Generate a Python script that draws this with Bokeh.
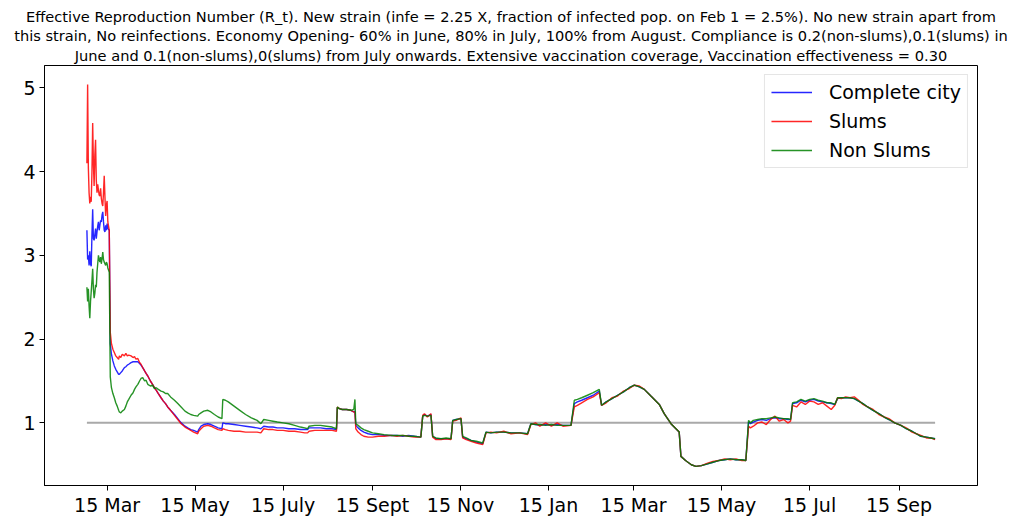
import pandas as pd
from bokeh.plotting import figure
from bokeh.models import FixedTicker, Legend, LegendItem, Title, Range1d, ColumnDataSource
from bokeh.embed import file_html
from bokeh.resources import INLINE

# ---------------- data ----------------
origin = "2021-03-15"  # day 0 of the x values below

day = [-14.0, -13.5, -13.0, -12.5, -12.0, -11.5, -11.0, -10.5, -10.0, -9.5, -9.0, -8.5, -8.0, -7.5,
       -7.0, -6.5, -6.0, -5.5, -5.0, -4.5, -4.0, -3.5, -3.0, -2.5, -2.0, -1.5, -1.0, -0.5, 0.0, 0.5,
       1.5, 2.2, 3, 4, 5, 6, 7, 8, 8.5, 9.5, 10.5, 12, 13, 14, 15, 16.6, 18, 19, 20, 21.3, 22.5,
       23.5, 24.7, 26, 27, 28.2, 30, 31.5, 32.8, 34, 35.5, 37.4, 39, 40.5, 42, 44, 46.7, 49, 51.3,
       54, 55.9, 58, 60, 62.8, 63.5, 65.1, 67, 69.8, 72, 74.4, 77, 79.6, 80.2, 82, 84, 88, 92, 96,
       100, 104, 106.6, 108.6, 112, 115, 118, 122, 126, 130, 134, 137, 139, 140, 144, 148, 152, 156,
       159, 159.6, 161, 163, 166, 169, 171, 171.8, 172.4, 174, 176, 178, 181, 184, 188, 192, 197,
       201, 205, 209, 213, 217.5, 218.8, 220, 222, 224.5, 225.7, 228, 231.5, 235, 238.4, 239.6, 242,
       245.3, 246.5, 249, 252.3, 256, 260.4, 262.7, 266, 270, 275, 280, 286, 291.5, 293.8, 297, 300,
       304, 308, 312, 316, 321.6, 323.9, 326, 329, 333, 337, 341.2, 342.8, 346, 350, 353.9, 358, 362,
       365.5, 369, 372.4, 377, 382.8, 386.2, 390.9, 396.6, 397.8, 401, 405, 408.2, 412, 416.3, 420,
       424, 428, 432, 436, 440, 442.8, 444.7, 446, 448, 451, 454, 457, 460, 463, 466, 469, 472, 473.8,
       475.2, 478, 481, 484, 487, 490, 493, 496, 499, 502, 504.5, 506.4, 509, 512, 515, 518, 521, 524,
       527.2, 531, 535, 538.7, 542, 546, 550.3, 554, 558, 561, 564.1, 568, 571, 574]

complete_city = [3.30, 2.95, 3.00, 2.88, 3.05, 2.90, 2.87, 3.25, 3.55, 3.20, 3.18, 3.25, 3.32, 3.20,
                 3.28, 3.35, 3.40, 3.30, 3.36, 3.42, 3.40, 3.48, 3.52, 3.40, 3.30, 3.28, 3.36, 3.30, 3.38, 3.32,
                 3.30, 1.95, 1.82, 1.74, 1.68, 1.64, 1.61, 1.58, 1.58, 1.60, 1.62, 1.66, 1.67, 1.69, 1.70, 1.72, 1.73, 1.73, 1.73, 1.73, 1.71,
                 1.69, 1.66, 1.62, 1.59, 1.56, 1.50, 1.46, 1.42, 1.39, 1.35, 1.30, 1.26, 1.23, 1.19, 1.15, 1.10, 1.05, 1.00,
                 0.96, 0.94, 0.92, 0.91, 0.89, 0.92, 0.96, 0.98, 0.99, 0.98, 0.96, 0.94, 0.93, 1.00, 0.99, 0.99, 0.98, 0.97, 0.96,
                 0.95, 0.94, 0.93, 0.96, 0.95, 0.95, 0.94, 0.94, 0.93, 0.93, 0.92, 0.92, 0.92, 0.94, 0.94, 0.94, 0.93, 0.93,
                 0.92, 1.18, 1.17, 1.16, 1.16, 1.15, 1.13, 1.14, 0.97, 0.94, 0.91, 0.89, 0.87, 0.86, 0.86, 0.85, 0.85,
                 0.85, 0.84, 0.85, 0.84, 0.83, 1.08, 1.10, 1.08, 1.10, 0.84, 0.81, 0.81, 0.81, 0.81, 1.03, 1.04,
                 1.05, 0.83, 0.81, 0.79, 0.77, 0.75, 0.89, 0.88, 0.89, 0.89, 0.88, 0.88, 0.87, 0.99, 0.98, 0.97,
                 0.98, 0.97, 0.98, 0.97, 0.97, 1.23, 1.25, 1.27, 1.30, 1.33, 1.38, 1.21, 1.25, 1.29, 1.33, 1.37, 1.42,
                 1.45, 1.43, 1.40, 1.32, 1.22, 1.11, 0.99, 0.89, 0.60, 0.55, 0.50, 0.48, 0.49, 0.51, 0.53,
                 0.55, 0.56, 0.57, 0.56, 0.56, 0.55, 1.01, 0.99, 1.01, 1.03, 1.04, 1.03, 1.05, 1.06, 1.05, 1.05, 1.04, 1.04,
                 1.23, 1.24, 1.27, 1.25, 1.27, 1.28, 1.26, 1.25, 1.24, 1.23, 1.22, 1.29, 1.30, 1.30, 1.30, 1.29, 1.26, 1.23,
                 1.19, 1.15, 1.11, 1.07, 1.04, 1.00, 0.97, 0.93, 0.90, 0.87, 0.84, 0.83, 0.82, 0.81]

slums = [4.10, 5.04, 4.05, 3.75, 3.62, 3.70, 3.64, 4.00, 4.58, 4.10, 3.83, 4.20, 4.38, 3.90,
         3.75, 3.85, 3.78, 3.72, 3.71, 3.80, 3.68, 3.62, 3.59, 3.75, 3.95, 3.70, 3.47, 3.60, 3.65, 3.40,
         3.30, 2.08, 1.95, 1.88, 1.84, 1.80, 1.78, 1.76, 1.80, 1.78, 1.82, 1.80, 1.83, 1.80, 1.81, 1.80, 1.78, 1.79, 1.76, 1.77, 1.72,
         1.70, 1.66, 1.62, 1.59, 1.56, 1.50, 1.46, 1.42, 1.39, 1.35, 1.30, 1.26, 1.23, 1.19, 1.15, 1.09, 1.04, 0.99,
         0.95, 0.93, 0.91, 0.89, 0.87, 0.90, 0.93, 0.96, 0.97, 0.96, 0.94, 0.92, 0.91, 0.93, 0.92, 0.91, 0.90, 0.90, 0.89,
         0.89, 0.89, 0.88, 0.93, 0.92, 0.92, 0.91, 0.91, 0.90, 0.90, 0.89, 0.88, 0.88, 0.90, 0.91, 0.91, 0.91, 0.91,
         0.90, 1.19, 1.17, 1.16, 1.16, 1.15, 1.13, 1.13, 0.93, 0.89, 0.86, 0.84, 0.83, 0.83, 0.84, 0.84, 0.85,
         0.84, 0.85, 0.84, 0.83, 0.83, 1.09, 1.11, 1.07, 1.11, 0.83, 0.80, 0.80, 0.81, 0.80, 1.02, 1.03,
         1.06, 0.82, 0.80, 0.78, 0.76, 0.74, 0.88, 0.89, 0.88, 0.90, 0.87, 0.88, 0.86, 0.98, 1.00, 0.96,
         1.00, 0.96, 1.00, 0.96, 0.97, 1.19, 1.21, 1.24, 1.28, 1.31, 1.36, 1.21, 1.24, 1.30, 1.32, 1.38, 1.41,
         1.45, 1.44, 1.40, 1.32, 1.22, 1.11, 0.99, 0.89, 0.60, 0.55, 0.50, 0.48, 0.49, 0.52, 0.54,
         0.55, 0.57, 0.56, 0.57, 0.55, 0.55, 0.96, 0.94, 0.96, 1.00, 1.01, 0.98, 1.04, 1.08, 1.02, 1.04, 1.00, 1.02,
         1.21, 1.19, 1.25, 1.22, 1.26, 1.25, 1.22, 1.24, 1.20, 1.16, 1.21, 1.30, 1.29, 1.31, 1.30, 1.31, 1.27, 1.22,
         1.19, 1.16, 1.10, 1.07, 1.05, 1.00, 0.97, 0.94, 0.89, 0.87, 0.85, 0.82, 0.82, 0.80]

non_slums = [2.62, 2.45, 2.60, 2.40, 2.25, 2.45, 2.57, 2.70, 2.84, 2.60, 2.49, 2.55, 2.65, 2.62,
             2.80, 2.90, 3.00, 2.95, 2.92, 2.98, 2.90, 2.96, 3.04, 2.95, 2.92, 2.90, 2.88, 2.92, 2.90, 2.85,
             2.80, 1.55, 1.42, 1.35, 1.30, 1.24, 1.20, 1.15, 1.13, 1.12, 1.14, 1.16, 1.20, 1.25, 1.28, 1.33, 1.36, 1.40, 1.43, 1.46, 1.50,
             1.53, 1.54, 1.50, 1.51, 1.46, 1.44, 1.45, 1.41, 1.42, 1.40, 1.38, 1.37, 1.35, 1.35, 1.31, 1.27, 1.23, 1.19,
             1.14, 1.12, 1.10, 1.09, 1.08, 1.10, 1.12, 1.14, 1.15, 1.13, 1.10, 1.07, 1.05, 1.28, 1.27, 1.25, 1.20, 1.15, 1.10,
             1.06, 1.03, 0.99, 1.04, 1.03, 1.02, 1.01, 1.00, 0.99, 0.97, 0.95, 0.94, 0.93, 0.96, 0.97, 0.97, 0.96, 0.95,
             0.93, 1.19, 1.17, 1.16, 1.16, 1.15, 1.16, 1.28, 0.99, 0.97, 0.94, 0.92, 0.90, 0.88, 0.87, 0.86, 0.85,
             0.85, 0.85, 0.84, 0.84, 0.83, 1.08, 1.09, 1.08, 1.09, 0.84, 0.82, 0.81, 0.82, 0.81, 1.03, 1.04,
             1.05, 0.84, 0.82, 0.79, 0.78, 0.76, 0.89, 0.88, 0.89, 0.89, 0.88, 0.88, 0.87, 0.99, 0.98, 0.98,
             0.97, 0.98, 0.97, 0.97, 0.97, 1.27, 1.28, 1.30, 1.33, 1.36, 1.40, 1.21, 1.25, 1.29, 1.33, 1.37, 1.42,
             1.45, 1.43, 1.40, 1.32, 1.22, 1.11, 0.99, 0.89, 0.60, 0.55, 0.50, 0.48, 0.49, 0.51, 0.53,
             0.55, 0.56, 0.57, 0.56, 0.56, 0.55, 1.03, 1.00, 1.03, 1.04, 1.05, 1.05, 1.06, 1.07, 1.06, 1.05, 1.05, 1.04,
             1.24, 1.25, 1.28, 1.26, 1.28, 1.29, 1.27, 1.26, 1.24, 1.24, 1.22, 1.30, 1.30, 1.30, 1.30, 1.29, 1.26, 1.23,
             1.19, 1.15, 1.11, 1.07, 1.04, 1.00, 0.97, 0.93, 0.90, 0.87, 0.84, 0.83, 0.82, 0.81]

reference_level = 1.0

tick_dates = ["2021-03-15", "2021-05-15", "2021-07-15", "2021-09-15", "2021-11-15",
              "2022-01-15", "2022-03-15", "2022-05-15", "2022-07-15", "2022-09-15"]
tick_labels = ["15 Mar", "15 May", "15 July", "15 Sept", "15 Nov",
               "15 Jan", "15 Mar", "15 May", "15 Jul", "15 Sep"]
y_ticks = [1, 2, 3, 4, 5]

title_lines = [
    "Effective Reproduction Number (R_t). New strain (infe = 2.25 X, fraction of infected pop. on Feb 1 = 2.5%). No new strain apart from",
    "this strain, No reinfections. Economy Opening- 60% in June, 80% in July, 100% from August. Compliance is 0.2(non-slums),0.1(slums) in",
    "June and 0.1(non-slums),0(slums) from July onwards. Extensive vaccination coverage, Vaccination effectiveness = 0.30",
]

# ---------------- figure ----------------
FONT = "DejaVu Sans"
t0 = pd.Timestamp(origin)
tick_pos = [int((pd.Timestamp(d) - t0).days) for d in tick_dates]

span = day[-1] - day[0]
ymin = min(min(complete_city), min(slums), min(non_slums))
ymax = max(max(complete_city), max(slums), max(non_slums))
yspan = ymax - ymin

p = figure(width=1013, height=518, output_backend="svg", toolbar_location=None,
           x_range=Range1d(day[0] - 0.05 * span, day[-1] + 0.05 * span),
           y_range=Range1d(ymin - 0.05 * yspan, ymax + 0.05 * yspan),
           min_border_left=44, min_border_right=36, min_border_top=65, min_border_bottom=29)

# title lines: the last line is nearest the plot, so add them bottom-up
for i, line in enumerate(reversed(title_lines)):
    p.add_layout(Title(text=line, align="center", text_font=FONT, text_font_size="14.6px",
                       text_font_style="normal", text_color="black",
                       standoff=3 if i == 0 else 0), "above")

p.background_fill_color = "white"
p.border_fill_color = "white"
p.outline_line_color = "black"
p.outline_line_width = 1
p.xgrid.visible = False
p.ygrid.visible = False

for ax in (p.xaxis[0], p.yaxis[0]):
    ax.axis_line_color = "black"
    ax.axis_line_width = 1
    ax.major_tick_line_color = "black"
    ax.major_tick_in = 0
    ax.major_tick_out = 5
    ax.minor_tick_line_color = None
    ax.major_label_text_font = FONT
    ax.major_label_text_font_size = "19px"
    ax.major_label_text_color = "black"
    ax.major_label_standoff = 4

p.xaxis[0].major_label_standoff = 3
p.xaxis[0].ticker = FixedTicker(ticks=tick_pos)
p.xaxis[0].major_label_overrides = {pos: lab for pos, lab in zip(tick_pos, tick_labels)}
p.yaxis[0].ticker = FixedTicker(ticks=y_ticks)

src = ColumnDataSource(dict(day=day, city=complete_city, slums=slums, non=non_slums))

p.line([day[0], day[-1]], [reference_level, reference_level], line_color="#a9a9a9", line_width=2)

r_city = p.line("day", "city", source=src, line_color="blue", line_width=1.4, line_alpha=0.85)
r_slums = p.line("day", "slums", source=src, line_color="red", line_width=1.4, line_alpha=0.85)
r_non = p.line("day", "non", source=src, line_color="green", line_width=1.4, line_alpha=0.85)

legend = Legend(items=[LegendItem(label="Complete city", renderers=[r_city]),
                       LegendItem(label="Slums", renderers=[r_slums]),
                       LegendItem(label="Non Slums", renderers=[r_non])],
                location="top_right", label_text_font=FONT, label_text_font_size="19px",
                label_text_color="black", glyph_width=41, glyph_height=20, label_standoff=17,
                padding=6, spacing=7, margin=9, border_line_color="#cccccc",
                border_line_width=1, background_fill_alpha=0.8)
p.add_layout(legend, "center")

open("out.html", "w").write(file_html(p, INLINE))
